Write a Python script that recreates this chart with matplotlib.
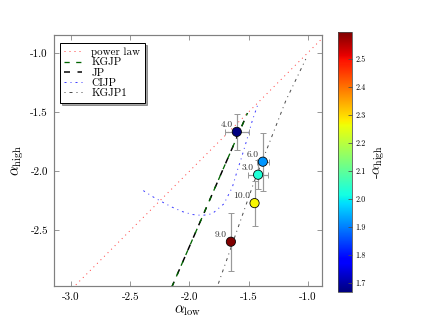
"""Spectral-index plane: alpha_high vs alpha_low with model tracks, coloured by -alpha_high."""
import matplotlib

matplotlib.use("Agg")
import matplotlib.pyplot as plt
from matplotlib.cm import ScalarMappable
from matplotlib.colors import Normalize

plt.rcParams.update({
    "font.family": "serif",
    "font.serif": ["cmr10", "DejaVu Serif"],
    "mathtext.fontset": "cm",
    "axes.unicode_minus": False,
    "axes.formatter.use_mathtext": False,
    "font.size": 10,
})

# sources
labels = ["4.0", "6.0", "3.0", "10.0", "9.0"]
alpha_low = [-1.60, -1.38, -1.42, -1.45, -1.65]
alpha_high = [-1.668, -1.92, -2.03, -2.27, -2.596]
err_low = [0.10, 0.05, 0.085, 0.02, 0.02]
err_high = [0.15, 0.245, 0.12, 0.19, 0.245]

# model tracks
power_x = [-3.05, -0.85]
power_y = [-3.05, -0.85]
kgjp_x = [-2.15, -1.51]
kgjp_y = [-2.98, -1.51]
jp_x = [-2.15, -1.51]
jp_y = [-2.98, -1.51]
cijp_x = [-2.39, -2.379, -2.303, -2.218, -2.147, -2.062, -1.977, -1.892, -1.808,
          -1.709, -1.638, -1.596, -1.568, -1.517, -1.469, -1.421]
cijp_y = [-2.164, -2.172, -2.22, -2.267, -2.304, -2.341, -2.366, -2.374, -2.36,
          -2.276, -2.136, -1.995, -1.911, -1.742, -1.573, -1.433]
kgjp1_x = [-1.77, -1.455, -1.186, -1.017]
kgjp1_y = [-2.99, -2.094, -1.405, -1.053]

W, H = 432, 324
fig = plt.figure(figsize=(W / 72, H / 72), dpi=72)
ax = fig.add_axes([54 / W, 1 - 286 / H, (322 - 54) / W, (286 - 35) / H])
cax = fig.add_axes([338 / W, 1 - 292 / H, 14 / W, 260 / H])

ax.plot(power_x, power_y, ls=(0, (1, 4)), color="red", alpha=0.75, lw=1.0, label="power law")
ax.plot(kgjp_x, kgjp_y, ls=(0, (4, 5)), color="darkgreen", lw=1.3, zorder=2.2, label="KGJP")
ax.plot(jp_x, jp_y, ls=(0, (4, 5)), color="black", lw=1.5, zorder=2.1, label="JP")
ax.plot(cijp_x, cijp_y, ls=(0, (2, 4, 1, 4)), color="blue", alpha=0.75, lw=1.0, label="CIJP")
ax.plot(kgjp1_x, kgjp1_y, ls=(0, (1, 4, 3, 4)), color="0.3", lw=1.0, label="KGJP1")

ax.errorbar(alpha_low, alpha_high, xerr=err_low, yerr=err_high, fmt="none",
            ecolor="0.6", elinewidth=1.2, capsize=3, zorder=3)
vmin, vmax = min(-a for a in alpha_high), max(-a for a in alpha_high)
norm = Normalize(vmin=vmin, vmax=vmax)
ax.scatter(alpha_low, alpha_high, c=[-a for a in alpha_high], cmap="jet", norm=norm,
           s=85, edgecolors="black", linewidths=0.8, zorder=4)
for x, y, t in zip(alpha_low, alpha_high, labels):
    ax.annotate(t, (x, y), xytext=(-4, 3), textcoords="offset points",
                ha="right", va="bottom", fontsize=9.5, color="0.2")

ax.set_xlim(-3.145, -0.88)
ax.set_ylim(-2.97, -0.85)
ax.set_xticks([-3.0, -2.5, -2.0, -1.5, -1.0])
ax.set_yticks([-2.5, -2.0, -1.5, -1.0])
ax.tick_params(direction="in", top=True, right=True, length=5, color="0.5",
               labelsize=11, pad=6)
for s in ax.spines.values():
    s.set_color("0.5")
    s.set_linewidth(1.2)
ax.set_xlabel(r"$\alpha_{\rm low}$", fontsize=15, labelpad=2)
ax.set_ylabel(r"$\alpha_{\rm high}$", fontsize=15, labelpad=4)

leg = ax.legend(loc="upper left", fontsize=11, handlelength=1.6, shadow=True,
                fancybox=False, borderpad=0.4, labelspacing=0.05, handletextpad=0.9,
                bbox_to_anchor=(0.0, 0.99))
leg.get_frame().set_edgecolor("black")

cb = fig.colorbar(ScalarMappable(norm=norm, cmap="jet"), cax=cax)
cb.set_ticks([1.7, 1.8, 1.9, 2.0, 2.1, 2.2, 2.3, 2.4, 2.5])
cb.ax.tick_params(direction="in", length=4, labelsize=8, color="0.3")
cb.outline.set_edgecolor("0.3")
cb.set_label(r"-$\alpha_{\rm high}$", fontsize=14, labelpad=6)

fig.savefig("out.png", dpi=72)
